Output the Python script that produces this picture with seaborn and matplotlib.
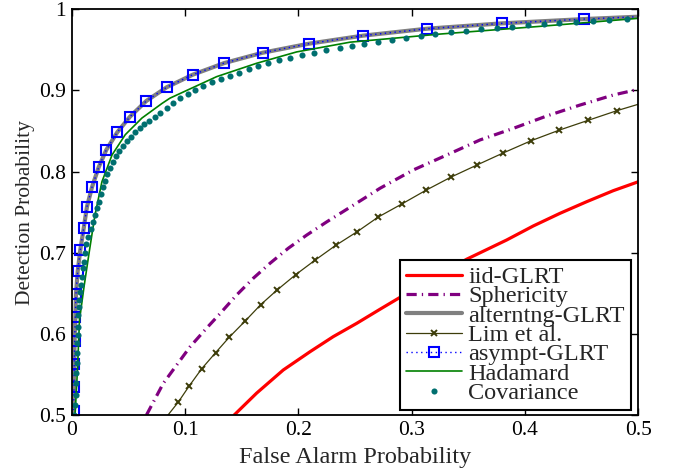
import matplotlib
matplotlib.use('Agg')
import matplotlib.pyplot as plt
import seaborn as sns
from matplotlib.ticker import FormatStrFormatter

# ROC curves
iid_pfa = [0.1434, 0.1632, 0.1867, 0.2103, 0.2308, 0.2515, 0.272, 0.2897, 0.3485,
           0.3838, 0.4073, 0.4309, 0.4544, 0.4779, 0.5]
iid_pd = [0.5, 0.527, 0.5555, 0.578, 0.5966, 0.613, 0.6303, 0.645, 0.692,
          0.7157, 0.733, 0.7486, 0.7629, 0.7765, 0.7875]

sph_pfa = [0.066, 0.0808, 0.1044, 0.119, 0.1309, 0.1456, 0.1602, 0.175, 0.1911, 0.2074,
           0.225, 0.2427, 0.2603, 0.272, 0.3014, 0.3309, 0.3603, 0.3897, 0.4191, 0.4485,
           0.4779, 0.5]
sph_pd = [0.5, 0.539, 0.584, 0.607, 0.625, 0.648, 0.6685, 0.687, 0.7055, 0.7218,
          0.738, 0.7535, 0.769, 0.7794, 0.802, 0.8204, 0.839, 0.8533, 0.8685, 0.882,
          0.8944, 0.9014]

glrt_pfa = [0.0015, 0.0018, 0.0020, 0.0022, 0.0026, 0.0032, 0.0038, 0.0053, 0.0076, 0.0106,
            0.0135, 0.0179, 0.0238, 0.0305, 0.0402, 0.0514, 0.0658, 0.0838, 0.1068, 0.1347,
            0.1685, 0.2091, 0.2568, 0.3135, 0.3797, 0.4523, 0.5]
glrt_pd = [0.5, 0.5053, 0.5341, 0.5629, 0.5916, 0.6204, 0.6491, 0.6771, 0.7034, 0.7301,
           0.7567, 0.7806, 0.8053, 0.8266, 0.8484, 0.8676, 0.887, 0.9039, 0.9194, 0.9338,
           0.9465, 0.9576, 0.9675, 0.9761, 0.9827, 0.988, 0.9909]

lim_pfa = [0.085, 0.0941, 0.1038, 0.1147, 0.1271, 0.1391, 0.1532, 0.1668, 0.1812, 0.1977,
           0.2149, 0.2329, 0.2520, 0.2705, 0.2912, 0.3126, 0.3344, 0.3574, 0.3808, 0.4053,
           0.4300, 0.4553, 0.4809, 0.5]
lim_pd = [0.5, 0.516, 0.536, 0.557, 0.577, 0.596, 0.616, 0.636, 0.654, 0.673,
          0.691, 0.709, 0.726, 0.744, 0.760, 0.777, 0.793, 0.808, 0.823, 0.838,
          0.851, 0.863, 0.875, 0.883]

had_pfa = [0.003, 0.0051, 0.0069, 0.0109, 0.0153, 0.0205, 0.0267, 0.0356, 0.0473, 0.062,
           0.0797, 0.0867, 0.1279, 0.1632, 0.1985, 0.2456, 0.325, 0.4132, 0.5]
had_pd = [0.5, 0.5555, 0.6171, 0.6581, 0.6993, 0.7460, 0.7875, 0.8205, 0.8455, 0.8660,
          0.8840, 0.8905, 0.9170, 0.9335, 0.9475, 0.9595, 0.9695, 0.9790, 0.9889]

cov_pfa = [0.0022, 0.0029, 0.0034, 0.0039, 0.0042, 0.0046, 0.0049, 0.0051, 0.0054, 0.0056,
           0.0058, 0.0062, 0.0067, 0.0073, 0.0079, 0.0088, 0.0100, 0.0109, 0.0117, 0.0129,
           0.0144, 0.0168, 0.0191, 0.0207, 0.0223, 0.0244, 0.0261, 0.0279, 0.0296, 0.0314,
           0.0341, 0.0362, 0.0391, 0.0420, 0.0453, 0.0488, 0.0523, 0.0561, 0.0600, 0.0641,
           0.0685, 0.0732, 0.0782, 0.0840, 0.0897, 0.0956, 0.1024, 0.1088, 0.1161, 0.1235,
           0.1315, 0.1397, 0.1476, 0.1562, 0.1647, 0.1735, 0.1827, 0.1926, 0.2029, 0.2138,
           0.2244, 0.2367, 0.2471, 0.2582, 0.2700, 0.2824, 0.2950, 0.3079, 0.3206, 0.3344,
           0.3477, 0.3609, 0.3750, 0.3888, 0.4024, 0.4167, 0.4302, 0.4447, 0.4597, 0.4744,
           0.4897]
cov_pd = [0.500, 0.5123, 0.5247, 0.5391, 0.5514, 0.5645, 0.5760, 0.5884, 0.5986, 0.6088,
          0.6232, 0.6327, 0.6417, 0.6520, 0.6602, 0.6704, 0.6808, 0.6889, 0.6993, 0.7107,
          0.7197, 0.7289, 0.7382, 0.7465, 0.7547, 0.7629, 0.7724, 0.7806, 0.7888, 0.7970,
          0.8048, 0.8122, 0.8192, 0.8257, 0.8319, 0.8377, 0.8430, 0.8484, 0.8533, 0.8583,
          0.8627, 0.8669, 0.8718, 0.8780, 0.8842, 0.8903, 0.8956, 0.9005, 0.9055, 0.9100,
          0.9137, 0.9178, 0.9219, 0.9261, 0.9298, 0.9338, 0.9371, 0.9404, 0.9437, 0.9465,
          0.9498, 0.9527, 0.9551, 0.9576, 0.9601, 0.9625, 0.9650, 0.9671, 0.9692, 0.9717,
          0.9736, 0.9754, 0.9770, 0.9786, 0.9803, 0.9815, 0.9827, 0.9840, 0.9856, 0.9868,
          0.9880]

x_ticks = [0, 0.1, 0.2, 0.3, 0.4, 0.5]
y_ticks = [0.5, 0.6, 0.7, 0.8, 0.9, 1.0]

sns.set_style('ticks')
plt.rcParams['font.family'] = ['Liberation Serif', 'DejaVu Serif']

fig = plt.figure(figsize=(6.73, 4.68), dpi=100)
ax = fig.add_axes([0.1065, 0.1132, 0.842, 0.8669])

common = dict(ax=ax, estimator=None, sort=False)
sns.lineplot(x=iid_pfa, y=iid_pd, color='#ff0000', lw=2.3, label='iid-GLRT', **common)
sns.lineplot(x=sph_pfa, y=sph_pd, color='#800080', lw=2.3,
             linestyle=(0, (3.2, 1.6, 0.4, 1.6)), label='Sphericity', **common)
sns.lineplot(x=glrt_pfa, y=glrt_pd, color='#808080', lw=3.0, label='alterntng-GLRT', **common)
sns.lineplot(x=lim_pfa, y=lim_pd, color='#3d3d0a', lw=0.9, marker='x', markersize=5,
             markeredgewidth=1.4, markeredgecolor='#3d3d0a',
             markevery=list(range(1, len(lim_pfa) - 1)), label='Lim et al.', **common)
sns.lineplot(x=glrt_pfa, y=glrt_pd, color='#0000ff', lw=1.0, linestyle=(0, (1, 2.5)),
             marker='s', markersize=6.8, markerfacecolor='none', markeredgecolor='#0000ff',
             markeredgewidth=1.5, markevery=list(range(1, len(glrt_pfa) - 1)),
             label='asympt-GLRT', **common)
sns.lineplot(x=had_pfa, y=had_pd, color='#008000', lw=1.2, label='Hadamard', **common)
sns.lineplot(x=cov_pfa, y=cov_pd, color='#006f6f', linestyle='none', marker='o',
             markersize=4.4, markeredgewidth=0, markerfacecolor='#006f6f',
             label='Covariance', **common)

ax.set_xlim(0, 0.5)
ax.set_ylim(0.5, 1.0)
ax.set_xticks(x_ticks)
ax.set_yticks(y_ticks)
ax.xaxis.set_major_formatter(FormatStrFormatter('%g'))
ax.yaxis.set_major_formatter(FormatStrFormatter('%g'))
ax.tick_params(direction='in', top=True, right=True, length=5, width=1.0,
               labelsize=15.5, pad=4, color='black', labelcolor='black')
for sp in ax.spines.values():
    sp.set_visible(True)
    sp.set_color('black')
    sp.set_linewidth(1.3)

ax.set_xlabel('False Alarm Probability', fontsize=17.5, labelpad=5)
ax.set_ylabel('Detection Probability', fontsize=15.5, labelpad=3)

leg = ax.legend(loc='lower right', bbox_to_anchor=(0.987, 0.012), borderaxespad=0,
                fontsize=17.5, frameon=True, fancybox=False, framealpha=1,
                edgecolor='black', handlelength=2.3, handletextpad=0.25,
                labelspacing=-0.11, borderpad=0.25)
leg.get_frame().set_linewidth(1.5)

fig.savefig('out.png', dpi=100)
